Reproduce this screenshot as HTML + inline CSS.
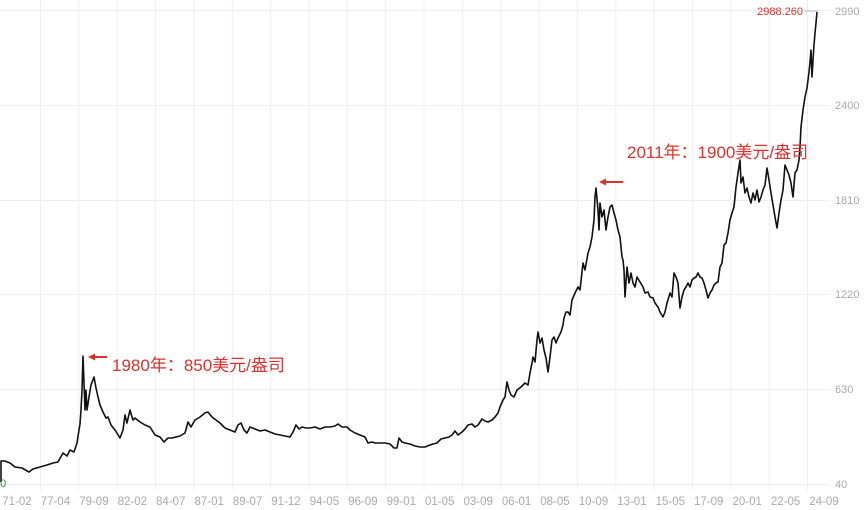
<!DOCTYPE html>
<html><head><meta charset="utf-8"><style>
html,body{margin:0;padding:0;background:#fff;}
svg{display:block;}
</style></head><body>
<svg width="866" height="510" viewBox="0 0 866 510" xmlns="http://www.w3.org/2000/svg">
<rect width="866" height="510" fill="#fff"/>
<g stroke="#efefef" stroke-width="1">
<line x1="40.5" y1="0" x2="40.5" y2="490"/>
<line x1="78.9" y1="0" x2="78.9" y2="490"/>
<line x1="117.2" y1="0" x2="117.2" y2="490"/>
<line x1="155.6" y1="0" x2="155.6" y2="490"/>
<line x1="193.9" y1="0" x2="193.9" y2="490"/>
<line x1="232.3" y1="0" x2="232.3" y2="490"/>
<line x1="270.6" y1="0" x2="270.6" y2="490"/>
<line x1="309" y1="0" x2="309" y2="490"/>
<line x1="347.3" y1="0" x2="347.3" y2="490"/>
<line x1="385.7" y1="0" x2="385.7" y2="490"/>
<line x1="424" y1="0" x2="424" y2="490"/>
<line x1="462.4" y1="0" x2="462.4" y2="490"/>
<line x1="500.7" y1="0" x2="500.7" y2="490"/>
<line x1="539.1" y1="0" x2="539.1" y2="490"/>
<line x1="577.4" y1="0" x2="577.4" y2="490"/>
<line x1="615.8" y1="0" x2="615.8" y2="490"/>
<line x1="654.1" y1="0" x2="654.1" y2="490"/>
<line x1="692.5" y1="0" x2="692.5" y2="490"/>
<line x1="730.8" y1="0" x2="730.8" y2="490"/>
<line x1="769.2" y1="0" x2="769.2" y2="490"/>
<line x1="807.5" y1="0" x2="807.5" y2="490"/>
<line x1="0" y1="10.5" x2="830" y2="10.5"/>
<line x1="0" y1="105.5" x2="830" y2="105.5"/>
<line x1="0" y1="200.5" x2="830" y2="200.5"/>
<line x1="0" y1="294.5" x2="830" y2="294.5"/>
<line x1="0" y1="389.5" x2="830" y2="389.5"/>
<line x1="0" y1="484.5" x2="830" y2="484.5"/>
</g>
<line x1="805" y1="11" x2="818" y2="11" stroke="#bbb" stroke-width="1"/>
<polyline fill="none" stroke="#111" stroke-width="1.6" stroke-linejoin="round" points="1,482 1,461 3,461 5,461 10,463 15,467 22,468 29,472 33,469 40,467 47,465 53,463 58,462 63,453 67,456 70,450 74,452 77,443 79,430 80,424 81,410 82,390 83,356 84,383 85,410 86,390 87,410 89,397 91,385 94,377 96,388 98,397 100,405 103,412 106,418 108,417 111,425 115,430 120,438 123,430 125,415 127,423 130,410 132,417 133,420 135,418 140,422 145,425 150,427 155,435 160,437 164,442 168,438 172,438 176,437 180,436 185,433 188,422 191,427 195,420 200,417 205,413 208,412 212,417 216,420 220,423 225,428 230,430 235,432 238,425 241,423 244,430 247,433 250,427 255,429 260,431 265,430 270,432 275,434 280,435 285,436 290,437 293,432 296,425 299,429 302,427 306,428 310,428 315,427 320,429 325,427 330,427 335,426 338,424 342,427 347,427 350,430 355,433 360,435 365,437 368,443 372,442 375,443 380,443 385,443 390,444 394,448 397,448 399,438 402,442 405,443 410,444 415,446 420,447 425,447 430,445 433,444 437,443 441,439 445,438 449,437 452,435 455,431 458,435 462,432 465,429 468,425 472,424 475,427 478,425 482,419 485,421 488,422 492,420 495,417 498,413 500,407 503,400 505,397 507,382 509,390 511,395 514,397 517,390 521,387 525,383 528,385 530,373 532,363 533,357 535,362 537,340 538,332 540,343 542,338 544,350 546,358 548,372 550,357 552,340 554,337 556,343 558,338 561,332 563,325 564,318 566,312 568,312 570,315 572,300 575,293 578,287 580,290 583,263 585,270 588,253 590,247 592,237 594,220 595,197 596,188 598,210 599,230 600,203 602,217 604,210 606,230 608,217 610,207 612,205 614,213 616,220 618,230 620,237 622,257 623,260 624,270 625,297 627,267 629,283 631,273 633,283 635,287 637,277 640,282 643,287 645,293 648,292 650,297 653,298 655,303 658,307 660,312 663,317 665,312 667,303 670,293 672,297 674,273 676,277 678,283 680,308 682,297 684,290 686,287 688,283 690,287 692,280 694,278 696,277 698,273 700,277 702,278 704,283 706,290 708,298 710,293 712,290 714,285 716,283 718,282 720,267 722,263 724,245 726,243 728,233 730,220 732,213 734,207 736,187 738,173 740,160 741,183 743,177 745,193 747,188 749,197 751,203 753,193 755,200 757,190 759,202 761,197 763,190 765,185 767,168 769,180 771,193 773,205 775,217 777,228 779,213 781,200 783,190 785,165 787,170 789,175 791,183 793,197 795,173 797,170 799,160 800,147 801,127 803,110 805,97 807,88 808,80 809,72 810,62 811,50 812,77 813,60 814,45 815,33 816,23 817,12"/>
<g fill="#d8332e" stroke="none">
<rect x="93" y="356" width="14" height="2"/>
<polygon points="88,357 95,353.5 95,360.5"/>
<rect x="604" y="181" width="19" height="2"/>
<polygon points="599,182 606,178.5 606,185.5"/>
</g>
<g font-family="'Liberation Sans','Noto Sans CJK SC',sans-serif" fill="#d8332e" font-size="17">
<text x="112" y="371">1980年：850美元/盎司</text>
<text x="627" y="158">2011年：1900美元/盎司</text>
</g>
<text x="803" y="15" font-family="'Liberation Sans',sans-serif" font-size="11" fill="#d8332e" text-anchor="end">2988.260</text>
<g font-family="'Liberation Sans',sans-serif" font-size="11" fill="#aaa">
<text x="835" y="15">2990</text>
<text x="835" y="109">2400</text>
<text x="835" y="204">1810</text>
<text x="835" y="298">1220</text>
<text x="835" y="393">630</text>
<text x="835" y="488">40</text>
</g>
<text x="-6" y="487" font-family="'Liberation Sans',sans-serif" font-size="11" fill="#2e8b3a">40</text>
<g font-family="'Liberation Sans',sans-serif" font-size="11.5" fill="#aaa" text-anchor="middle">
<text x="17" y="505">71-02</text>
<text x="55.4" y="505">77-04</text>
<text x="93.9" y="505">79-09</text>
<text x="132.3" y="505">82-02</text>
<text x="170.7" y="505">84-07</text>
<text x="209.2" y="505">87-01</text>
<text x="247.6" y="505">89-07</text>
<text x="286" y="505">91-12</text>
<text x="324.4" y="505">94-05</text>
<text x="362.9" y="505">96-09</text>
<text x="401.3" y="505">99-01</text>
<text x="439.7" y="505">01-05</text>
<text x="478.2" y="505">03-09</text>
<text x="516.6" y="505">06-01</text>
<text x="555" y="505">08-05</text>
<text x="593.5" y="505">10-09</text>
<text x="631.9" y="505">13-01</text>
<text x="670.3" y="505">15-05</text>
<text x="708.7" y="505">17-09</text>
<text x="747.2" y="505">20-01</text>
<text x="785.6" y="505">22-05</text>
<text x="824" y="505">24-09</text>
</g>
</svg>
</body></html>
